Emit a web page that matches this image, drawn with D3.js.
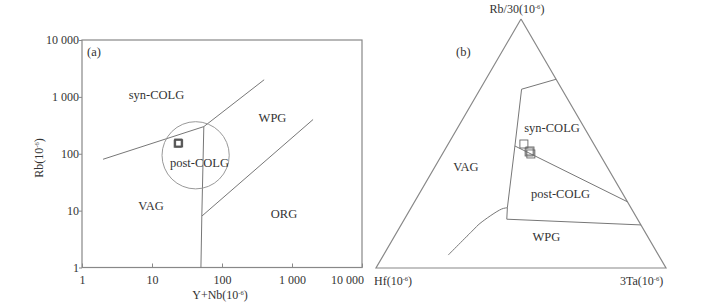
<!DOCTYPE html>
<html>
<head>
<meta charset="utf-8">
<script src="https://cdn.jsdelivr.net/npm/d3@7"></script>
<style>
  body { margin: 0; background: #fff; }
  svg { display: block; }
  text { font-family: "Liberation Serif", "DejaVu Serif", serif; fill: #333; }
</style>
</head>
<body>
<svg id="chart" width="716" height="306"></svg>
<script>
// ---- (a) Rb vs Y+Nb ----
let tickValues = [1, 10, 100, 1000, 10000];
let tickLabels = ['1', '10', '100', '1 000', '10 000'];

let vagSynLine = [[2, 80], [55, 300]];
let synWpgLine = [[55, 300], [400, 2000]];
let vagOrgLine = [[55, 300], [51.5, 8], [50, 1]];
let orgWpgLine = [[51.5, 8], [2000, 400]];
let postColgCenter = [42, 94];
let postColgRadiusDecades = 0.48;

let samplesA = [[23.3, 150], [23.9, 155], [24.4, 152], [23.7, 157]];

let regionLabelsA = [
  {name: 'syn-COLG', x: 11.6, y: 1080},
  {name: 'WPG', x: 526, y: 425},
  {name: 'post-COLG', x: 47.7, y: 69},
  {name: 'VAG', x: 9.7, y: 12.1},
  {name: 'ORG', x: 770, y: 8.7}
];

// ---- (b) Rb/30 - Hf - 3Ta (values as Rb/30, Hf, 3Ta in %) ----
let synTopLine = [[75.8, 0, 24.2], [71.8, 13.9, 14.3]];
let centralLine = [[71.8, 13.9, 14.3], [49.0, 27.6, 23.4], [24.2, 42.6, 33.2], [19.6, 45.1, 35.3]];
let synPostLine = [[49.0, 27.6, 23.4], [26.6, 0, 73.4]];
let wpgTopLine = [[19.6, 45.1, 35.3], [17.3, 0, 82.7]];
let vagWpgCurve = [[24.2, 42.6, 33.2], [23.7, 44.8, 31.5], [17.9, 55.2, 26.9], [15.3, 58.8, 25.9], [5.2, 72.5, 22.3]];

let samplesB = [[49.8, 24.1, 26.1], [46.6, 23.9, 29.5], [47.0, 23.4, 29.6], [45.8, 23.7, 30.5]];

let regionLabelsB = [
  {name: 'syn-COLG', v: [56.2, 11.2, 32.6]},
  {name: 'VAG', v: [40.6, 48.7, 10.7]},
  {name: 'post-COLG', v: [29.7, 21.5, 48.8]},
  {name: 'WPG', v: [12.5, 35, 52.5]}
];

let svg = d3.select('#chart');
let lineColor = '#777';
let axisColor = '#888';

function sup(sel, base, tail) {
  sel.append('tspan').text(base);
  sel.append('tspan').attr('font-size', 6.5).attr('dy', -4.5).text('-6');
  sel.append('tspan').attr('dy', 4.5).text(tail);
}

// ---------- panel a ----------
let xScale = d3.scaleLog().domain([1, 10000]).range([82, 362]);
let yScale = d3.scaleLog().domain([1, 10000]).range([267.5, 40]);

let ga = svg.append('g');

ga.append('rect')
  .attr('x', xScale(1)).attr('y', yScale(10000))
  .attr('width', xScale(10000) - xScale(1))
  .attr('height', yScale(1) - yScale(10000))
  .attr('fill', 'none').attr('stroke', axisColor).attr('stroke-width', 1.2);

let xAxis = d3.axisBottom(xScale).tickValues(tickValues)
  .tickFormat((d, i) => tickLabels[i]).tickSizeInner(-4).tickSizeOuter(0);
let yAxis = d3.axisLeft(yScale).tickValues(tickValues)
  .tickFormat((d, i) => tickLabels[i]).tickSizeInner(3).tickSizeOuter(0);

let gx = ga.append('g').attr('transform', `translate(0,${yScale(1)})`).call(xAxis);
let gy = ga.append('g').attr('transform', `translate(${xScale(1)},0)`).call(yAxis);
[gx, gy].forEach(g => {
  g.select('.domain').remove();
  g.selectAll('line').attr('stroke', axisColor);
  g.selectAll('text').attr('font-family', '"Liberation Serif", serif').attr('font-size', 12).attr('fill', '#333');
});
gx.selectAll('text').attr('dy', '1.15em');
gx.selectAll('text').filter(d => d === 10000).attr('dx', -15);
gy.selectAll('text').attr('x', -3);

let lineA = d3.line().x(d => xScale(d[0])).y(d => yScale(d[1]));
[vagSynLine, synWpgLine, vagOrgLine, orgWpgLine].forEach(l => {
  ga.append('path').attr('d', lineA(l)).attr('fill', 'none')
    .attr('stroke', lineColor).attr('stroke-width', 1);
});

let cx = xScale(postColgCenter[0]);
let r = xScale(postColgCenter[0] * Math.pow(10, postColgRadiusDecades)) - cx;
ga.append('circle').attr('cx', cx).attr('cy', yScale(postColgCenter[1])).attr('r', r)
  .attr('fill', 'none').attr('stroke', '#999').attr('stroke-width', 1);

ga.selectAll('rect.sample').data(samplesA).enter().append('rect')
  .attr('class', 'sample')
  .attr('x', d => xScale(d[0]) - 3.5).attr('y', d => yScale(d[1]) - 3.5)
  .attr('width', 7).attr('height', 7)
  .attr('fill', 'none').attr('stroke', '#555').attr('stroke-width', 1);

ga.selectAll('text.region').data(regionLabelsA).enter().append('text')
  .attr('class', 'region')
  .attr('x', d => xScale(d.x)).attr('y', d => yScale(d.y))
  .attr('text-anchor', 'middle').attr('dy', '0.35em')
  .attr('font-size', 12.5).text(d => d.name);

ga.append('text').attr('x', 87).attr('y', 56).attr('font-size', 12.5).text('(a)');

let xt = ga.append('text').attr('x', 220).attr('y', 299).attr('text-anchor', 'middle').attr('font-size', 12);
sup(xt, 'Y+Nb(10', ')');
let yt = ga.append('text').attr('transform', 'translate(43,158) rotate(-90)')
  .attr('text-anchor', 'middle').attr('font-size', 12);
sup(yt, 'Rb(10', ')');

// ---------- panel b ----------
let tx = d3.scaleLinear().domain([0, 1]).range([376, 666]);
let ty = d3.scaleLinear().domain([0, 1]).range([268, 19]);
function tern(v) {
  let s = v[0] + v[1] + v[2];
  let rb = v[0] / s, ta = v[2] / s;
  return [tx(ta + rb / 2), ty(rb)];
}

let gb = svg.append('g');
let triangle = [[100, 0, 0], [0, 100, 0], [0, 0, 100], [100, 0, 0]];
let lineB = d3.line().x(d => tern(d)[0]).y(d => tern(d)[1]);

gb.append('path').attr('d', lineB(triangle)).attr('fill', 'none')
  .attr('stroke', axisColor).attr('stroke-width', 1.2);

[synTopLine, centralLine, synPostLine, wpgTopLine].forEach(l => {
  gb.append('path').attr('d', lineB(l)).attr('fill', 'none')
    .attr('stroke', lineColor).attr('stroke-width', 1);
});
gb.append('path').attr('d', lineB.curve(d3.curveCatmullRom)(vagWpgCurve)).attr('fill', 'none')
  .attr('stroke', lineColor).attr('stroke-width', 1);

gb.selectAll('rect.sample').data(samplesB).enter().append('rect')
  .attr('class', 'sample')
  .attr('x', d => tern(d)[0] - 4).attr('y', d => tern(d)[1] - 4)
  .attr('width', 8).attr('height', 8)
  .attr('fill', 'none').attr('stroke', '#666').attr('stroke-width', 0.9);

gb.selectAll('text.region').data(regionLabelsB).enter().append('text')
  .attr('class', 'region')
  .attr('x', d => tern(d.v)[0]).attr('y', d => tern(d.v)[1])
  .attr('text-anchor', 'middle').attr('dy', '0.35em')
  .attr('font-size', 12.5).text(d => d.name);

gb.append('text').attr('x', 456).attr('y', 56).attr('font-size', 12.5).text('(b)');

let topT = gb.append('text').attr('x', 517).attr('y', 13).attr('text-anchor', 'middle').attr('font-size', 12);
sup(topT, 'Rb/30(10', ')');
let leftT = gb.append('text').attr('x', 374).attr('y', 285).attr('font-size', 12);
sup(leftT, 'Hf(10', ')');
let rightT = gb.append('text').attr('x', 620).attr('y', 285).attr('font-size', 12);
sup(rightT, '3Ta(10', ')');
</script>
</body>
</html>
